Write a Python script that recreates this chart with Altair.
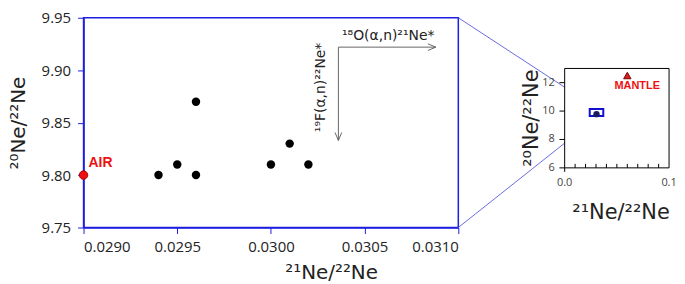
import altair as alt
import pandas as pd

# ---------------- main panel data ----------------
sample_x = [0.0294, 0.0295, 0.0296, 0.0296, 0.0300, 0.0301, 0.0302]
sample_y = [9.80, 9.81, 9.87, 9.80, 9.81, 9.83, 9.81]
air_x = [0.0290]
air_y = [9.80]
air_label = ["AIR"]
x_ticks = [0.0290, 0.0295, 0.0300, 0.0305, 0.0310]
y_ticks = [9.75, 9.80, 9.85, 9.90, 9.95]
x_domain = [0.0290, 0.0310]
y_domain = [9.75, 9.95]

arrow_x0, arrow_y0 = 0.03036, 9.922
arrow_x1 = 0.03088
arrow_y1 = 9.833
label_o = "¹⁸O(α,n)²¹Ne*"
label_f = "¹⁹F(α,n)²²Ne*"
label_o_pos = (0.030626, 9.922)
label_f_pos = (0.030265, 9.8836)

# ---------------- inset data ----------------
inset_x_domain = [0.0, 0.1]
inset_y_domain = [6, 13]
inset_y_ticks = [6, 8, 10, 12]
inset_x_labels = [0.0, 0.1]
inset_minor = [0.01, 0.02, 0.03, 0.04, 0.05, 0.06, 0.07, 0.08, 0.09]
cluster_x = [0.0305]
cluster_y = [9.78]
mantle_x = [0.060]
mantle_y = [12.5]
mantle_label = ["MANTLE"]
box_x = [0.024, 0.037]
box_y = [9.65, 10.15]
zoom_tip = (0.037, 9.9)

W, H = 377, 211
BLUE = "#1e1ee0"
FONT = "Open Sans"
TFONT = "DejaVu Sans"
LFONT = "Liberation Sans"

mx = alt.Scale(domain=x_domain, nice=False, zero=False)
my = alt.Scale(domain=y_domain, nice=False, zero=False)
ix = alt.Scale(domain=inset_x_domain, range=[484, 589], nice=False, zero=False)
iy = alt.Scale(domain=inset_y_domain, range=[151, 51], nice=False, zero=False)

x_axis = alt.Axis(values=x_ticks, format=".4f", title="²¹Ne/²²Ne", grid=False,
                  domainColor=BLUE, tickColor=BLUE, tickSize=6, domainWidth=1.5,
                  labelFont=FONT, labelFontSize=15, labelColor="#222222", labelPadding=6,
                  titleFont=TFONT, titleFontSize=20, titleFontWeight="normal",
                  titleColor="#222222", titleX=249, titleY=51,
                  titleBaseline="alphabetic", titleAlign="center")
y_axis = alt.Axis(values=y_ticks, format=".2f", title="²⁰Ne/²²Ne", grid=False,
                  domainColor=BLUE, tickColor=BLUE, tickSize=6, domainWidth=1.5,
                  labelFont=FONT, labelFontSize=15, labelColor="#222222", labelPadding=7,
                  titleFont=TFONT, titleFontSize=20, titleFontWeight="normal",
                  titleColor="#222222", titlePadding=13)


def MX(f="x"):
    return alt.X(f"{f}:Q", scale=mx, axis=x_axis)


def MY(f="y"):
    return alt.Y(f"{f}:Q", scale=my, axis=y_axis)


def IX(f="x"):
    return alt.X(f"{f}:Q", scale=ix, axis=None)


def IY(f="y"):
    return alt.Y(f"{f}:Q", scale=iy, axis=None)


# ---------------- main layers ----------------
pts = alt.Chart(pd.DataFrame({"x": sample_x, "y": sample_y})).mark_circle(
    size=72, color="black", opacity=1).encode(x=MX(), y=MY())

air = alt.Chart(pd.DataFrame({"x": air_x, "y": air_y})).mark_point(
    shape="circle", size=72, filled=True, fill="#ee1111", stroke="#aa0000",
    strokeWidth=1, opacity=1).encode(x=MX(), y=MY())

air_txt = alt.Chart(pd.DataFrame({"x": air_x, "y": air_y, "t": air_label})).mark_text(
    align="left", baseline="middle", dx=5, dy=-12, font=LFONT, fontSize=14,
    fontWeight="bold", color="#ee1111").encode(x=MX(), y=MY(), text="t:N")

arr_df_h = pd.DataFrame({"x": [arrow_x0], "y": [arrow_y0], "x2": [arrow_x1]})
arr_h = alt.Chart(arr_df_h).mark_rule(color="#666666", strokeWidth=1).encode(
    x=MX(), x2="x2:Q", y=MY())
arr_df_v = pd.DataFrame({"x": [arrow_x0], "y": [arrow_y0], "y2": [arrow_y1]})
arr_v = alt.Chart(arr_df_v).mark_rule(color="#666666", strokeWidth=1).encode(
    x=MX(), y=MY(), y2="y2:Q")

head_path = "M -1 -0.42 L 0 0 L -1 0.42"
head_h = alt.Chart(pd.DataFrame({"x": [arrow_x1], "y": [arrow_y0]})).mark_point(
    shape=head_path, size=256, filled=False, color="#666666", strokeWidth=1,
    opacity=1).encode(x=MX(), y=MY())
head_v = alt.Chart(pd.DataFrame({"x": [arrow_x0], "y": [arrow_y1]})).mark_point(
    shape=head_path, size=256, filled=False, color="#666666", strokeWidth=1,
    opacity=1, angle=90).encode(x=MX(), y=MY())

lab_o = alt.Chart(pd.DataFrame({"x": [label_o_pos[0]], "y": [label_o_pos[1]], "t": [label_o]})).mark_text(
    align="center", baseline="alphabetic", dy=-7, font=TFONT, fontSize=14,
    color="#222222").encode(x=MX(), y=MY(), text="t:N")
lab_f = alt.Chart(pd.DataFrame({"x": [label_f_pos[0]], "y": [label_f_pos[1]], "t": [label_f]})).mark_text(
    align="center", baseline="middle", angle=270, font=TFONT, fontSize=14,
    color="#222222").encode(x=MX(), y=MY(), text="t:N")

main = alt.layer(pts, arr_h, arr_v, head_h, head_v, lab_o, lab_f, air, air_txt)

# ---------------- inset layers ----------------
conn_df = pd.DataFrame({"x": [zoom_tip[0]], "y": [zoom_tip[1]]})
conn_top = alt.Chart(conn_df).mark_rule(color="#6a6ae0", strokeWidth=1).encode(
    x=IX(), y=IY(), x2=alt.value(W), y2=alt.value(0))
conn_bot = alt.Chart(conn_df).mark_rule(color="#6a6ae0", strokeWidth=1).encode(
    x=IX(), y=IY(), x2=alt.value(W), y2=alt.value(H))

frame = alt.Chart(pd.DataFrame({"x": [inset_x_domain[0]], "x2": [inset_x_domain[1]],
                                "y": [inset_y_domain[0]], "y2": [inset_y_domain[1]]})).mark_rect(
    fill="white", stroke="black", strokeWidth=1).encode(x=IX(), x2="x2:Q", y=IY(), y2="y2:Q")

ytick_df = pd.DataFrame({"y": inset_y_ticks, "x": [0.0] * 4, "x2": [-0.005] * 4})
yticks = alt.Chart(ytick_df).mark_rule(color="black", strokeWidth=1).encode(
    x=IX(), x2="x2:Q", y=IY())
ylabs = alt.Chart(pd.DataFrame({"y": inset_y_ticks, "x": [0.0] * 4,
                                "t": [str(v) for v in inset_y_ticks]})).mark_text(
    align="right", baseline="middle", dx=-10, font=FONT, fontSize=11, color="#444444").encode(
    x=IX(), y=IY(), text="t:N")

minor_df = pd.DataFrame({"x": inset_minor, "y": [6.0] * len(inset_minor), "y2": [6.28] * len(inset_minor)})
minor = alt.Chart(minor_df).mark_rule(color="black", strokeWidth=1).encode(
    x=IX(), y=IY(), y2="y2:Q")
zero_tick = alt.Chart(pd.DataFrame({"x": [0.0], "y": [6.0], "y2": [5.72]})).mark_rule(
    color="black", strokeWidth=1).encode(x=IX(), y=IY(), y2="y2:Q")
xlabs = alt.Chart(pd.DataFrame({"x": inset_x_labels, "y": [6.0, 6.0],
                                "t": ["0.0", "0.1"]})).mark_text(
    align="center", baseline="top", dy=9, font=FONT, fontSize=11, color="#444444").encode(
    x=IX(), y=IY(), text="t:N")

box = alt.Chart(pd.DataFrame({"x": [box_x[0]], "x2": [box_x[1]], "y": [box_y[0]], "y2": [box_y[1]]})).mark_rect(
    fill="white", fillOpacity=0, stroke="#1010d0", strokeWidth=2).encode(
    x=IX(), x2="x2:Q", y=IY(), y2="y2:Q")
cluster = alt.Chart(pd.DataFrame({"x": cluster_x, "y": cluster_y})).mark_circle(
    size=40, color="#1a1a60", opacity=1).encode(x=IX(), y=IY())
mantle = alt.Chart(pd.DataFrame({"x": mantle_x, "y": mantle_y})).mark_point(
    shape="triangle-up", size=55, filled=True, fill="#d42020", stroke="#7a0000",
    strokeWidth=1, opacity=1).encode(x=IX(), y=IY())
mantle_txt = alt.Chart(pd.DataFrame({"x": mantle_x, "y": mantle_y, "t": mantle_label})).mark_text(
    align="center", baseline="middle", dx=10, dy=11, font=LFONT, fontSize=11,
    fontWeight="bold", color="#ee1111").encode(x=IX(), y=IY(), text="t:N")

ititle_y = alt.Chart(pd.DataFrame({"x": [-0.031], "y": [9.5], "t": ["²⁰Ne/²²Ne"]})).mark_text(
    align="center", baseline="middle", angle=270, font=TFONT, fontSize=21,
    color="#222222").encode(x=IX(), y=IY(), text="t:N")
ititle_x = alt.Chart(pd.DataFrame({"x": [0.054], "y": [6.0], "t": ["²¹Ne/²²Ne"]})).mark_text(
    align="center", baseline="alphabetic", dy=51, font=TFONT, fontSize=21,
    color="#222222").encode(x=IX(), y=IY(), text="t:N")

inset = alt.layer(conn_top, conn_bot, frame, yticks, ylabs, minor, zero_tick, xlabs,
                  box, cluster, mantle, mantle_txt, ititle_y, ititle_x)

chart = alt.layer(main, inset).resolve_scale(x="independent", y="independent").properties(
    width=W, height=H, padding={"left": 0, "top": 2, "right": 0, "bottom": 0}
).configure_view(stroke=BLUE, strokeWidth=1.5)

chart.save("out.html", embed_options={"renderer": "svg", "actions": False})
